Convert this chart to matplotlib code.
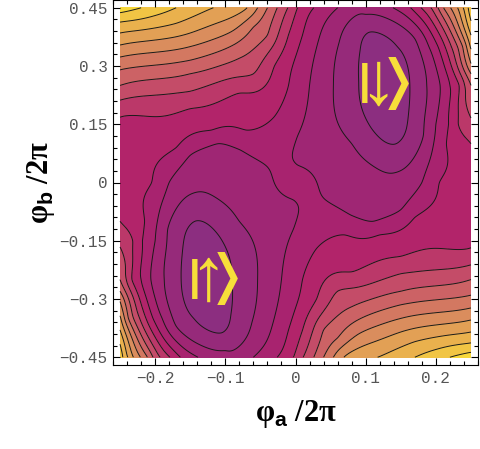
import matplotlib
matplotlib.use("Agg")
import matplotlib.pyplot as plt
import numpy as np
from matplotlib.colors import LinearSegmentedColormap, Normalize

plt.rcParams["font.family"] = "Liberation Mono"
plt.rcParams["mathtext.fontset"] = "custom"
plt.rcParams["mathtext.bf"] = "Liberation Sans:bold"
plt.rcParams["mathtext.rm"] = "Liberation Sans:bold"

# Contour level (counted in line spacings above the wells).
# The landscape is symmetric under (a, b) -> (-a, -b), so only one half is listed.
# top edge, phi_b/2pi = 0.45
top_a = [-0.25, -0.22, -0.17, -0.117, -0.069, -0.054, -0.04, -0.026, -0.011,
         0.003, 0.026, 0.06, 0.095, 0.139, 0.164, 0.179, 0.193, 0.203, 0.211,
         0.221, 0.231, 0.239, 0.246, 0.25]
top_level = [13.5, 13, 12, 11, 10, 9, 8, 7, 6, 5, 4, 3, 2.2, 3, 4, 5, 6, 7, 8,
             9, 10, 11, 12, 12.8]
# left edge, phi_a/2pi = -0.25
left_b = [0.413, 0.385, 0.354, 0.323, 0.29, 0.25, 0.212, 0.168, 0.1, 0.05, 0.0,
          -0.05, -0.1, -0.166, -0.217, -0.3, -0.35, -0.4]
left_level = [12, 11, 10, 9, 8, 7, 6, 5, 4.5, 4.4, 4.4, 4.6, 5, 6, 6.8, 8.8,
              10.2, 11.6]
# points on the contour lines inside the frame: (phi_a/2pi, phi_b/2pi, level)
inner_pts = [
    # upper well
    (0.125, 0.243, 0.4),
    (0.105, 0.387, 1), (0.142, 0.099, 1), (0.09, 0.26, 1), (0.163, 0.24, 1),
    (0.092, 0.34, 1), (0.145, 0.35, 1), (0.108, 0.14, 1), (0.16, 0.16, 1),
    (0.1, 0.433, 2), (0.145, 0.027, 2), (0.054, 0.25, 2), (0.187, 0.25, 2),
    (0.062, 0.36, 2), (0.17, 0.37, 2), (0.08, 0.1, 2), (0.182, 0.12, 2),
    (0.035, 0.38, 3), (0.02, 0.25, 3), (0.003, 0.12, 3), (0.003, 0.045, 3),
    (0.04, -0.04, 3), (0.079, -0.084, 3), (0.11, -0.1, 3), (0.15, -0.07, 3),
    (0.18, 0.0, 3), (0.2, 0.15, 3), (0.206, 0.25, 3), (0.19, 0.35, 3),
    (0.07, 0.0, 2.6), (-0.1, 0.0, 2.5), (0.0, 0.0, 3.3),
    # wall right of the upper well
    (0.22, 0.25, 4), (0.233, 0.25, 5), (0.241, 0.25, 6), (0.25, 0.25, 7),
    (0.203, 0.35, 4), (0.213, 0.35, 5), (0.222, 0.35, 6), (0.238, 0.35, 8),
    (0.218, 0.15, 4), (0.232, 0.15, 5),
    # line 4 left of the wells
    (0.01, 0.38, 4), (-0.01, 0.25, 4), (-0.03, 0.17, 4), (-0.07, 0.135, 4),
    (-0.12, 0.135, 4), (-0.17, 0.09, 4), (-0.205, 0.0, 4), (-0.215, -0.1, 4),
    (-0.21, 0.08, 4.3), (-0.1, 0.17, 4.4),
    # upper left slope
    (-0.15, 0.19, 5), (-0.08, 0.23, 5), (-0.03, 0.3, 5), (-0.01, 0.38, 5),
    (-0.15, 0.235, 6), (-0.06, 0.28, 6), (-0.025, 0.38, 6),
    (-0.15, 0.28, 7), (-0.08, 0.32, 7), (-0.04, 0.38, 7),
    (-0.15, 0.315, 8), (-0.06, 0.4, 8),
    (-0.15, 0.35, 9), (-0.09, 0.39, 9),
    (-0.15, 0.385, 10), (-0.17, 0.41, 11), (-0.2, 0.43, 12),
]

x_ticks = [-0.2, -0.1, 0, 0.1, 0.2]
x_ticklabels = ["\u22120.2", "\u22120.1", "0", "0.1", "0.2"]
y_ticks = [-0.45, -0.3, -0.15, 0, 0.15, 0.3, 0.45]
y_ticklabels = ["\u22120.45", "\u22120.3", "\u22120.15", "0", "0.15", "0.3", "0.45"]

# collect the samples and add their mirror images
sa = np.concatenate([top_a, np.full(len(left_b), -0.25), [p[0] for p in inner_pts]])
sb = np.concatenate([np.full(len(top_a), 0.45), left_b, [p[1] for p in inner_pts]])
sz = np.concatenate([top_level, left_level, [p[2] for p in inner_pts]])
keep = (sa != 0) | (sb != 0)
pa = np.concatenate([sa, -sa[keep]])
pb = np.concatenate([sb, -sb[keep]])
pz = np.concatenate([sz, sz[keep]])

# thin plate spline through the samples (frame mapped onto a unit square)
u, v = pa / 0.5, pb / 0.9


def kern(du, dv):
    r2 = du * du + dv * dv
    return 0.5 * r2 * np.log(np.maximum(r2, 1e-300))


n = len(u)
K = kern(u[:, None] - u[None, :], v[:, None] - v[None, :]) + 1e-6 * np.eye(n)
P = np.column_stack([np.ones(n), u, v])
system = np.block([[K, P], [P.T, np.zeros((3, 3))]])
sol = np.linalg.solve(system, np.concatenate([pz, np.zeros(3)]))
w, c = sol[:n], sol[n:]

ga, gb = np.meshgrid(np.linspace(-0.25, 0.25, 251), np.linspace(-0.45, 0.45, 401))
gu, gv = ga.ravel() / 0.5, gb.ravel() / 0.9
Z = np.empty(gu.size)
for i in range(0, gu.size, 4000):
    s = slice(i, i + 4000)
    Z[s] = kern(gu[s, None] - u[None, :], gv[s, None] - v[None, :]) @ w \
        + c[0] + c[1] * gu[s] + c[2] * gv[s]
Z = Z.reshape(ga.shape)

cmap = LinearSegmentedColormap.from_list(
    "pinkgold",
    [(0.0, "#8c2e80"), (0.3, "#b0206a"), (0.48, "#c65068"),
     (0.68, "#d98a5e"), (0.86, "#ebb44c"), (1.0, "#f7d83a")],
)

fig = plt.figure(figsize=(4.8, 4.49), dpi=100)
ax = fig.add_axes([113 / 480, 84 / 449, 365 / 480, 365 / 449])
ax.contourf(ga, gb, Z, levels=np.arange(-3, 19), cmap=cmap,
            norm=Normalize(0.4, 13.5), extend="both")
ax.contour(ga, gb, Z, levels=np.arange(1, 17), colors="#1a1a1a", linewidths=0.7)


def ket(x, y, arrow):
    yellow = "#f7de3a"
    style = dict(textcoords="offset points", color=yellow, ha="center",
                 va="center", fontweight="bold")
    ax.annotate("|", (x, y), xytext=(0, 0), fontsize=30,
                family="Liberation Sans", **style)
    ax.annotate(arrow, (x, y), xytext=(9.5, -1), fontsize=54,
                family="Liberation Sans", **style)
    ax.annotate("\u276d", (x, y), xytext=(23.5, 0), fontsize=38,
                family="DejaVu Sans", **style)


ket(0.099, 0.256, "\u2193")
ket(-0.144, -0.248, "\u2191")

ax.set_xlim(-0.26, 0.26)
ax.set_ylim(-0.47, 0.47)
ax.set_xticks(x_ticks)
ax.set_xticklabels(x_ticklabels)
ax.set_yticks(y_ticks)
ax.set_yticklabels(y_ticklabels)
ax.set_xticks(np.round(np.arange(-13, 14) * 0.02, 2), minor=True)
ax.set_yticks(np.round(np.arange(-15, 16) * 0.03, 2), minor=True)
ax.tick_params(which="both", direction="in", top=True, right=True, width=0.8,
               labelsize=11.5, labelcolor="#555555", pad=4)
ax.tick_params(which="major", length=5)
ax.tick_params(which="minor", length=3)

ax.set_xlabel("\u03c6$_{\\mathbf{a}}$ /2\u03c0", family="Liberation Serif",
              fontweight="bold", fontsize=22, labelpad=9)
ax.set_ylabel("\u03c6$_{\\mathbf{b}}$ /2\u03c0", family="Liberation Serif",
              fontweight="bold", fontsize=22, labelpad=2)

fig.savefig("out.png", dpi=100)
